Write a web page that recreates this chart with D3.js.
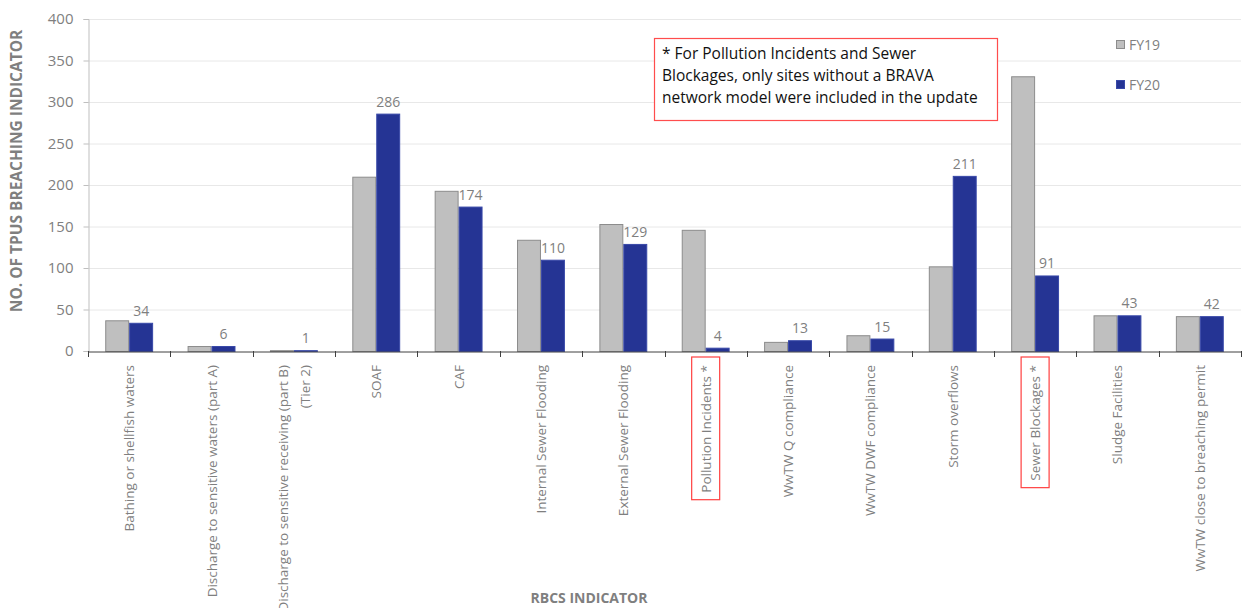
<!DOCTYPE html>
<html>
<head>
<meta charset="utf-8">
<script src="https://cdn.jsdelivr.net/npm/d3@7"></script>
<style>
  body { margin: 0; background: #fff; }
  svg { display: block; font-family: "Open Sans", sans-serif; }
</style>
</head>
<body>
<svg id="chart" width="1243" height="608"></svg>
<script>
// chart values
const categories = [
  "Bathing or shellfish waters",
  "Discharge to sensitive waters (part A)",
  "Discharge to sensitive receiving  (part B)|(Tier 2)",
  "SOAF",
  "CAF",
  "Internal Sewer Flooding",
  "External Sewer Flooding",
  "Pollution Incidents *",
  "WwTW Q compliance",
  "WwTW DWF compliance",
  "Storm overflows",
  "Sewer Blockages *",
  "Sludge Facilities",
  "WwTW close to breaching permit"
];
const fy19 = [37, 6, 1, 210, 193, 134, 153, 146, 11, 19, 102, 331, 43, 42];
const fy20 = [34, 6, 1, 286, 174, 110, 129, 4, 13, 15, 211, 91, 43, 42];
const seriesNames = ["FY19", "FY20"];
const yTicks = [0, 50, 100, 150, 200, 250, 300, 350, 400];
const flagged = ["Pollution Incidents *", "Sewer Blockages *"];
const noteLines = [
  "* For Pollution Incidents and Sewer",
  "Blockages, only sites without a BRAVA",
  "network model were included in the update"
];

const svg = d3.select("#chart");
const margin = { top: 19, left: 88, right: 2 };
const plotBottom = 351;
const width = 1243;

const x = d3.scaleBand()
  .domain(categories)
  .range([margin.left, width - margin.right])
  .paddingInner(0)
  .paddingOuter(0);

const xInner = d3.scaleBand()
  .domain(seriesNames)
  .range([0, x.bandwidth()])
  .paddingOuter(0.72)
  .paddingInner(0);

const y = d3.scaleLinear().domain([0, 400]).range([plotBottom, margin.top]);

const colors = { FY19: "#bfbfbf", FY20: "#253494" };
const strokes = { FY19: "#8c8c8c", FY20: "#3848a8" };
const textGray = "#7f7f7f";

// gridlines
svg.append("g")
  .selectAll("line")
  .data(yTicks.filter(d => d > 0))
  .join("line")
  .attr("x1", margin.left)
  .attr("x2", width - margin.right)
  .attr("y1", d => y(d) + 0.5)
  .attr("y2", d => y(d) + 0.5)
  .attr("stroke", "#e8e8e8");

// y axis
const yAxis = svg.append("g")
  .attr("transform", `translate(${margin.left + 0.5},0)`)
  .call(d3.axisLeft(y).tickValues(yTicks).tickSize(5).tickPadding(10));
yAxis.select(".domain").attr("stroke", "#bfbfbf");
yAxis.selectAll(".tick line").attr("stroke", "#bfbfbf");
yAxis.selectAll("text")
  .attr("fill", textGray)
  .style("font-size", "15px")
  .style("font-family", "Open Sans, sans-serif");

// bars
const data = categories.map((c, i) => ({ cat: c, FY19: fy19[i], FY20: fy20[i] }));
const groups = svg.append("g")
  .selectAll("g")
  .data(data)
  .join("g")
  .attr("transform", d => `translate(${x(d.cat)},0)`);

groups.selectAll("rect")
  .data(d => seriesNames.map(s => ({ s, v: d[s] })))
  .join("rect")
  .attr("x", d => xInner(d.s) + 0.5)
  .attr("y", d => y(d.v) + 0.5)
  .attr("width", xInner.bandwidth() - 1)
  .attr("height", d => Math.max(0, plotBottom - y(d.v)))
  .attr("fill", d => colors[d.s])
  .attr("stroke", d => strokes[d.s])
  .attr("stroke-width", 1);

// value labels over FY20
groups.append("text")
  .attr("x", xInner("FY20") + xInner.bandwidth() / 2)
  .attr("y", d => y(d.FY20) - 7)
  .attr("text-anchor", "middle")
  .attr("fill", textGray)
  .style("font-size", "14px")
  .text(d => d.FY20);

// x axis
const xAxis = svg.append("g")
  .attr("transform", `translate(0,${plotBottom + 0.5})`)
  .call(d3.axisBottom(x).tickSize(0).tickFormat(""));
xAxis.select(".domain").attr("stroke", "#404040").attr("stroke-width", 1);

svg.append("g")
  .selectAll("line")
  .data(d3.range(categories.length + 1))
  .join("line")
  .attr("x1", i => Math.round(margin.left + i * x.step()) + 0.5)
  .attr("x2", i => Math.round(margin.left + i * x.step()) + 0.5)
  .attr("y1", plotBottom)
  .attr("y2", plotBottom + 6)
  .attr("stroke", "#404040");

// rotated category labels
const labels = svg.append("g")
  .selectAll("g")
  .data(categories)
  .join("g")
  .attr("transform", d => `translate(${x(d) + x.bandwidth() / 2},365) rotate(-90)`);

labels.each(function (d) {
  const g = d3.select(this);
  const lines = d.split("|");
  const lh = 22;
  const t = g.append("text")
    .attr("text-anchor", "end")
    .attr("fill", textGray)
    .style("font-size", "13.5px");
  lines.forEach((ln, k) => {
    t.append("tspan")
      .attr("x", 0)
      .attr("y", (k - (lines.length - 1) / 2) * lh + 5)
      .text(ln);
  });
  if (flagged.includes(d)) {
    const b = t.node().getBBox();
    g.insert("rect", "text")
      .attr("x", b.x - 7)
      .attr("y", b.y - 5)
      .attr("width", b.width + 15)
      .attr("height", b.height + 10)
      .attr("fill", "none")
      .attr("stroke", "#ff4040")
      .attr("stroke-width", 1.2);
  }
});

// axis titles
svg.append("text")
  .attr("transform", `translate(22,171) rotate(-90)`)
  .attr("text-anchor", "middle")
  .attr("fill", "#7f7f7f")
  .style("font-size", "15.5px")
  .style("font-weight", "bold")
  .text("NO. OF TPUS BREACHING INDICATOR");

svg.append("text")
  .attr("x", 589)
  .attr("y", 603)
  .attr("text-anchor", "middle")
  .attr("fill", "#7f7f7f")
  .style("font-size", "14px")
  .style("font-weight", "bold")
  .text("RBCS INDICATOR");

// legend
const legend = svg.append("g")
  .selectAll("g")
  .data(seriesNames)
  .join("g")
  .attr("transform", (d, i) => `translate(1116,${45 + i * 40})`);
legend.append("rect")
  .attr("x", 0.5).attr("y", -4.5)
  .attr("width", 8).attr("height", 8)
  .attr("fill", d => colors[d])
  .attr("stroke", d => strokes[d]);
legend.append("text")
  .attr("x", 13).attr("y", 5)
  .attr("fill", textGray)
  .style("font-size", "14px")
  .text(d => d);

// note box
const note = svg.append("g").attr("transform", "translate(654,38)");
note.append("rect")
  .attr("x", 0.5).attr("y", 0.5)
  .attr("width", 343).attr("height", 82)
  .attr("fill", "#fff")
  .attr("stroke", "#ff4d4d")
  .attr("stroke-width", 1.2);
note.selectAll("text")
  .data(noteLines)
  .join("text")
  .attr("x", 8)
  .attr("y", (d, i) => 21 + i * 22)
  .attr("fill", "#111")
  .style("font-size", "15.5px")
  .text(d => d);
</script>
</body>
</html>
